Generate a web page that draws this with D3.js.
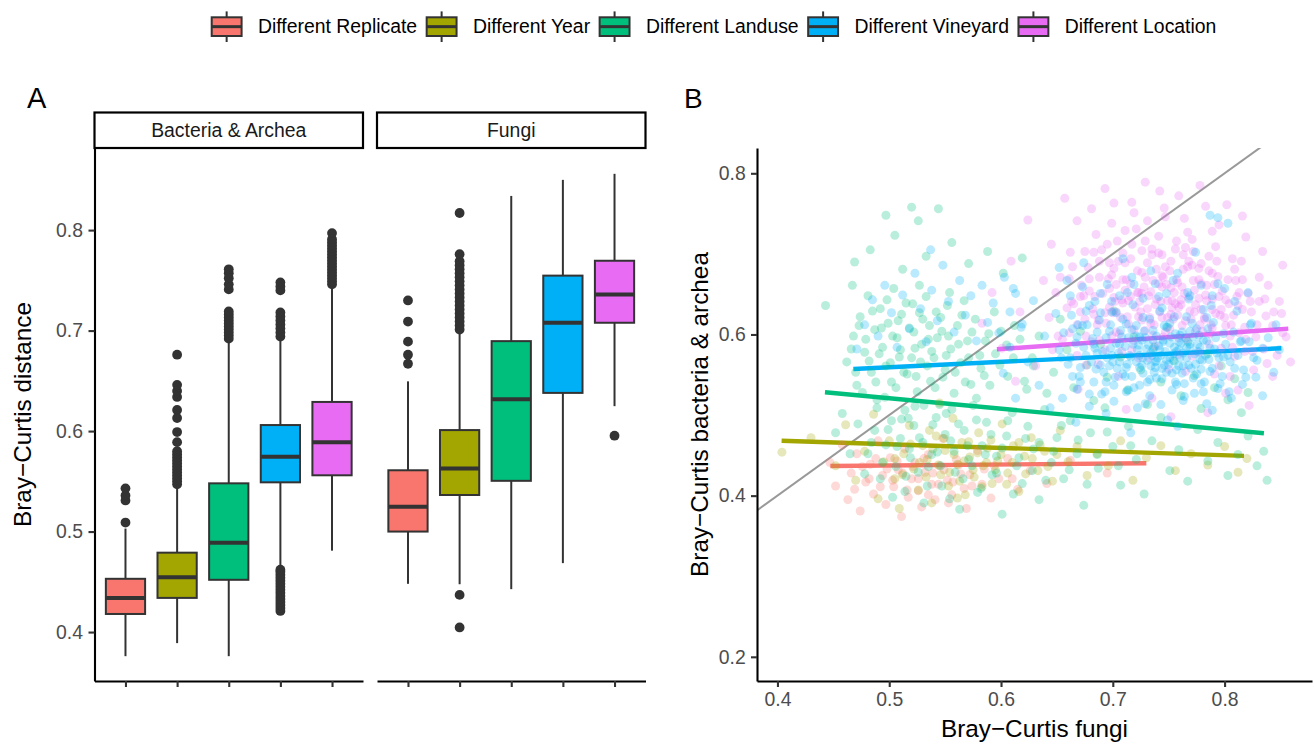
<!DOCTYPE html>
<html>
<head>
<meta charset="utf-8">
<script src="https://cdnjs.cloudflare.com/ajax/libs/d3/7.8.5/d3.min.js"></script>
<style>
body { margin: 0; background: white; }
svg { font-family: "Liberation Sans", Arial, sans-serif; }
</style>
</head>
<body>
<script>
// ---- data ----
const groups = ["Different Replicate", "Different Year", "Different Landuse", "Different Vineyard", "Different Location"];
const groupColors = ["#F8766D", "#A3A500", "#00BF7D", "#00B0F6", "#E76BF3"];
const facets = ["Bacteria & Archea", "Fungi"];

// box stats per group: [lower whisker, q1, median, q3, upper whisker]
const bacteriaStats = [
  [0.376, 0.418, 0.434, 0.453, 0.503],
  [0.389, 0.434, 0.4545, 0.479, 0.545],
  [0.376, 0.452, 0.489, 0.548, 0.690],
  [0.466, 0.549, 0.5745, 0.606, 0.690],
  [0.481, 0.556, 0.589, 0.629, 0.743]
];
const bacteriaOutliers = [
  [0.509, 0.531, 0.536, 0.543],
  [0.547, 0.550, 0.553, 0.556, 0.559, 0.562, 0.565, 0.568, 0.571, 0.574, 0.577, 0.580, 0.589, 0.599, 0.613, 0.621, 0.634, 0.640, 0.646, 0.676],
  [0.692, 0.695, 0.698, 0.701, 0.704, 0.707, 0.710, 0.713, 0.716, 0.719, 0.741, 0.746, 0.752, 0.757, 0.761],
  [0.421, 0.424, 0.427, 0.430, 0.433, 0.436, 0.439, 0.442, 0.445, 0.448, 0.451, 0.454, 0.457, 0.460, 0.462,
   0.694, 0.698, 0.702, 0.706, 0.710, 0.714, 0.718, 0.740, 0.744, 0.748],
  [0.746, 0.749, 0.752, 0.755, 0.758, 0.761, 0.764, 0.767, 0.770, 0.773, 0.776, 0.779, 0.782, 0.785, 0.788, 0.791, 0.797]
];
const fungiStats = [
  [0.448, 0.500, 0.5246, 0.561, 0.6495],
  [0.4476, 0.5364, 0.5627, 0.601, 0.699],
  [0.4427, 0.5505, 0.6316, 0.6895, 0.834],
  [0.4686, 0.638, 0.7078, 0.7547, 0.850],
  [0.6248, 0.7078, 0.736, 0.7695, 0.856]
];
const fungiOutliers = [
  [0.667, 0.676, 0.689, 0.709, 0.730],
  [0.4046, 0.437, 0.701, 0.705, 0.709, 0.713, 0.717, 0.721, 0.725, 0.729, 0.733, 0.737, 0.741, 0.745, 0.749, 0.753, 0.757, 0.761, 0.765, 0.769, 0.776, 0.817],
  [],
  [],
  [0.5954]
];
const yTicksA = [0.4, 0.5, 0.6, 0.7, 0.8];

// panel B: fungi distance (x) vs bacteria distance (y)
const replicatePts = [[.447,.441],[.452,.412],[.458,.463],[.463,.395],[.466,.428],[.471,.452],[.474,.381],[.479,.417],[.483,.439],[.486,.402],[.49,.468],[.494,.425],[.497,.389],[.501,.447],[.504,.411],[.508,.432],[.511,.374],[.514,.458],[.517,.398],[.52,.421],[.523,.441],[.526,.406],[.529,.386],[.532,.429],[.535,.451],[.538,.414],[.541,.395],[.545,.437],[.548,.471],[.552,.419],[.556,.401],[.56,.445],[.564,.427],[.569,.384],[.574,.412],[.579,.456],[.585,.433],[.591,.397],[.598,.421],[.606,.446],[.615,.408],[.626,.431],[.641,.415],[.662,.444],[.695,.428],
  [.469,.408],[.476,.436],[.482,.421],[.488,.446],[.492,.411],[.498,.433],[.503,.419],[.507,.443],[.512,.428],[.516,.407],[.521,.436],[.526,.421],[.531,.446],[.535,.401],[.539,.428],[.544,.414],[.549,.432],[.553,.391],[.557,.417],[.562,.438],[.567,.409],[.572,.426],[.583,.414],[.594,.437],[.61,.421]];
const yearPts = [[.404,.454],[.43,.472],[.452,.437],[.461,.488],[.47,.419],[.478,.455],[.486,.501],[.49,.396],[.495,.442],[.5,.468],[.505,.421],[.509,.384],[.513,.452],[.518,.487],[.522,.433],[.526,.407],[.53,.462],[.534,.445],[.538,.391],[.542,.474],[.546,.426],[.55,.456],[.553,.412],[.557,.496],[.561,.439],[.565,.466],[.568,.401],[.572,.448],[.576,.423],[.58,.478],[.584,.437],[.588,.459],[.592,.415],[.597,.443],[.601,.489],[.606,.428],[.611,.462],[.616,.405],[.621,.449],[.627,.472],[.633,.431],[.639,.455],[.646,.418],[.653,.481],[.66,.442],[.668,.461],[.677,.425],[.686,.452],[.696,.437],[.707,.468],[.718,.419],[.73,.447],[.743,.462],[.756,.431],[.77,.452],[.785,.438],[.8,.461],[.812,.429],[.82,.446],[.545,.515],
  [.505,.446],[.512,.426],[.519,.464],[.527,.441],[.533,.423],[.539,.458],[.544,.438],[.549,.471],[.554,.429],[.558,.451],[.563,.418],[.567,.443],[.571,.467],[.575,.432],[.579,.453],[.583,.411],[.587,.441],[.591,.469],[.595,.432],[.6,.451],[.605,.414],[.61,.441],[.616,.466],[.622,.427],[.628,.446],[.635,.463],[.642,.436],[.65,.451],[.536,.481],[.561,.397]];
const landusePts = [[.443,.636],[.467,.661],[.469,.69],[.483,.705],[.497,.748],[.505,.723],[.52,.758],[.526,.741],[.544,.756],[.512,.681],[.533,.697],[.556,.714],[.571,.688],[.588,.703],[.602,.676],[.619,.695],
  [.462,.566],[.468,.598],[.471,.537],[.474,.622],[.478,.578],[.481,.648],[.484,.553],[.487,.606],[.489,.519],[.492,.632],[.494,.584],[.497,.561],[.499,.614],[.502,.541],[.504,.657],[.507,.596],[.509,.572],[.511,.625],[.514,.506],[.516,.551],[.518,.608],[.521,.638],[.523,.583],[.525,.529],[.528,.566],[.53,.619],[.533,.647],[.535,.594],[.537,.542],[.54,.571],[.542,.628],[.545,.513],[.547,.604],[.55,.556],[.552,.636],[.555,.582],[.558,.527],[.561,.611],[.564,.565],[.567,.642],[.57,.592],[.573,.538],[.577,.619],[.581,.574],[.585,.549],[.589,.601],[.594,.628],[.599,.562],[.605,.587],[.612,.611],
  [.452,.478],[.458,.502],[.465,.452],[.472,.489],[.478,.427],[.484,.466],[.489,.509],[.494,.441],[.499,.482],[.503,.398],[.507,.461],[.511,.495],[.515,.424],[.519,.447],[.523,.511],[.527,.472],[.531,.391],[.535,.436],[.539,.488],[.543,.454],[.547,.412],[.551,.502],[.555,.468],[.559,.429],[.563,.383],[.567,.481],[.571,.445],[.575,.512],[.579,.404],[.583,.462],[.587,.491],[.592,.426],[.596,.449],[.601,.377],[.605,.474],[.61,.503],[.614,.437],[.619,.415],[.624,.486],[.629,.458],[.634,.395],[.639,.507],[.645,.441],[.65,.472],[.656,.421],[.662,.493],[.668,.452],[.674,.388],[.68,.478],[.687,.434],[.693,.509],[.7,.461],[.707,.413],[.714,.486],[.721,.445],[.728,.402],[.735,.468],[.743,.497],[.751,.431],[.759,.457],[.767,.418],[.776,.482],[.785,.443],[.794,.466],[.803,.425],[.812,.451],[.821,.474],[.829,.437],[.835,.455],[.838,.419],
  [.621,.542],[.628,.571],[.634,.598],[.641,.527],[.647,.553],[.653,.619],[.659,.581],[.665,.534],[.671,.604],[.677,.562],[.683,.518],[.689,.588],[.695,.547],[.701,.629],[.707,.572],[.713,.531],[.719,.597],[.725,.556],[.731,.513],[.737,.584],[.743,.541],[.749,.609],[.755,.567],[.761,.524],[.767,.591],[.773,.549],[.779,.508],[.785,.576],[.791,.534],[.797,.561],[.803,.519],[.809,.545],[.815,.503],[.821,.528],
  [.466,.582],[.47,.553],[.473,.611],[.476,.528],[.479,.594],[.482,.567],[.485,.629],[.488,.541],[.491,.576],[.493,.608],[.496,.522],[.498,.643],[.501,.565],[.503,.598],[.506,.534],[.508,.617],[.51,.581],[.513,.553],[.515,.639],[.517,.496],[.52,.571],[.522,.603],[.524,.548],[.527,.627],[.529,.588],[.531,.512],[.534,.561],[.536,.611],[.538,.579],[.541,.534],[.543,.596],[.546,.621],[.548,.547],[.551,.574],[.553,.598],[.556,.507],[.559,.553],[.562,.588],[.565,.624],[.568,.541],[.571,.571],[.574,.603],[.578,.521],[.582,.558],[.586,.592],[.59,.537],[.595,.576],[.6,.604],[.606,.548],[.611,.571],[.617,.594],[.623,.532],[.629,.561],[.554,.652],[.527,.661],
  [.481,.452],[.487,.481],[.492,.421],[.497,.463],[.502,.493],[.506,.436],[.51,.471],[.514,.405],[.518,.458],[.522,.487],[.526,.429],[.53,.466],[.534,.412],[.538,.451],[.542,.497],[.546,.437],[.55,.476],[.554,.396],[.558,.455],[.562,.489],[.566,.421],[.57,.462],[.574,.437],[.578,.494],[.582,.409],[.586,.451],[.591,.476],[.596,.428],[.601,.459],[.606,.493],[.611,.402],[.616,.447],[.622,.471],[.628,.431],[.634,.466],[.64,.419],[.647,.455],[.654,.487],[.661,.432],[.669,.469],[.677,.414],[.686,.451],[.695,.479],[.705,.437],[.716,.462]];
const vineyardPts = [[.471,.582],[.478,.612],[.485,.643],[.49,.598],[.496,.661],[.502,.627],[.507,.584],[.512,.649],[.518,.607],[.523,.676],[.528,.632],[.533,.591],[.538,.655],[.543,.617],[.548,.686],[.553,.641],[.558,.603],[.563,.667],[.568,.624],[.573,.648],[.578,.592],[.583,.661],[.588,.615],[.593,.639],[.598,.602],[.603,.671],[.608,.628],[.613,.651],[.618,.609],[.537,.705],
  [.602,.552],[.608,.584],[.613,.521],[.619,.613],[.624,.566],[.629,.642],[.634,.537],[.639,.598],[.644,.509],[.649,.626],[.654,.571],[.659,.667],[.664,.548],[.669,.612],[.674,.689],[.679,.526],[.684,.583],[.689,.651],[.694,.502],[.699,.628],[.704,.558],[.709,.694],[.714,.531],[.719,.662],[.724,.597],[.729,.514],[.734,.679],[.739,.546],[.744,.633],[.749,.494],[.754,.667],[.759,.581],[.764,.523],[.769,.648],[.774,.702],[.779,.539],[.784,.621],[.789,.506],[.794,.663],[.799,.572],[.804,.529],[.809,.641],[.814,.591],[.819,.547],[.824,.614],[.829,.568],[.834,.524],[.839,.596],[.844,.553],[.849,.581],[.787,.748],[.794,.745],[.803,.738],[.652,.683],[.667,.491],[.716,.478],[.758,.486],[.821,.652],[.611,.657],[.846,.612],
  [.652,.581],[.656,.602],[.66,.563],[.663,.624],[.667,.589],[.67,.548],[.673,.611],[.676,.574],[.679,.636],[.682,.595],[.685,.557],[.688,.618],[.691,.579],[.694,.541],[.697,.604],[.7,.566],[.703,.627],[.706,.588],[.709,.551],[.712,.613],[.715,.574],[.718,.637],[.721,.598],[.724,.559],[.727,.621],[.73,.582],[.733,.544],[.736,.605],[.739,.567],[.742,.629],[.745,.591],[.748,.553],[.751,.614],[.754,.576],[.757,.538],[.76,.599],[.763,.561],[.766,.622],[.769,.584],[.772,.546],[.775,.607],[.778,.569],[.781,.631],[.784,.592],[.787,.554],[.79,.615],[.793,.577],[.796,.539],[.799,.601],[.713,.563],[.722,.581],[.731,.568],[.741,.586],[.751,.571],[.761,.589],[.698,.583],[.708,.597],[.727,.552],[.736,.593],[.746,.562],[.756,.601],[.766,.571],[.776,.588],[.689,.562],[.702,.547],[.717,.606],[.734,.577],[.748,.609],[.762,.552],[.772,.597],[.783,.574],[.694,.596],[.711,.585],[.726,.593],[.743,.574],[.757,.556],[.769,.604],[.779,.557],[.686,.577],[.738,.559],
  [.662,.571],[.668,.597],[.671,.559],[.674,.584],[.677,.612],[.681,.566],[.683,.541],[.686,.603],[.689,.627],[.692,.553],[.695,.571],[.698,.612],[.701,.537],[.703,.589],[.706,.566],[.709,.619],[.711,.548],[.714,.596],[.716,.572],[.719,.534],[.721,.611],[.723,.587],[.726,.562],[.728,.604],[.731,.541],[.733,.619],[.735,.574],[.737,.553],[.739,.598],[.742,.581],[.744,.545],[.746,.611],[.748,.568],[.751,.589],[.753,.552],[.755,.622],[.757,.579],[.759,.561],[.762,.603],[.764,.539],[.766,.584],[.768,.562],[.771,.614],[.773,.576],[.775,.551],[.777,.599],[.78,.568],[.782,.541],[.785,.607],[.787,.583],[.789,.558],[.792,.596],[.795,.571],[.798,.548],[.801,.588],[.805,.566],[.808,.603],[.812,.574],[.817,.556],[.822,.591],
  [.705,.577],[.712,.559],[.718,.588],[.724,.574],[.729,.596],[.734,.561],[.74,.571],[.745,.593],[.75,.563],[.755,.584],[.76,.571],[.765,.596],[.77,.558],[.776,.579],[.781,.593],[.786,.569],[.717,.548],[.732,.587],[.747,.579],[.763,.577],[.778,.584],[.727,.571],[.752,.597],[.738,.566],[.769,.588],[.697,.561],[.683,.588],[.707,.605],[.744,.558],[.759,.591],[.721,.566],[.736,.582],[.754,.568],[.774,.563],[.791,.582],[.699,.574],
  [.655,.521],[.662,.648],[.668,.532],[.673,.659],[.679,.511],[.684,.641],[.69,.526],[.695,.662],[.701,.517],[.706,.648],[.712,.529],[.717,.671],[.722,.509],[.727,.645],[.733,.524],[.738,.663],[.743,.513],[.748,.651],[.753,.531],[.758,.676],[.763,.518],[.768,.644],[.773,.527],[.779,.661],[.784,.514],[.789,.648],[.794,.533],[.8,.657],[.806,.521],[.811,.629],[.816,.538],[.823,.612],[.828,.547],[.664,.607],[.676,.629],[.699,.641],[.713,.652],[.741,.647],[.767,.652],[.788,.636],[.671,.541],[.693,.529],[.724,.537],[.756,.541],[.781,.529],[.803,.574],[.809,.558],[.815,.592],[.826,.571],[.834,.583]];
const locationPts = [[.583,.614],[.592,.652],[.601,.583],[.609,.691],[.617,.628],[.624,.742],[.631,.561],[.638,.667],[.645,.712],[.651,.598],[.657,.769],[.663,.641],[.669,.532],[.675,.703],[.681,.756],[.687,.618],[.693,.781],[.699,.674],[.705,.548],[.711,.729],[.717,.764],[.723,.652],[.729,.789],[.735,.521],[.741,.701],[.747,.746],[.753,.633],[.759,.772],[.765,.554],[.771,.718],[.777,.682],[.783,.759],[.789,.608],[.795,.736],[.801,.527],[.807,.694],[.813,.652],[.819,.721],[.825,.579],[.831,.671],[.837,.623],[.843,.548],[.849,.641],[.855,.597],[.859,.566],[.852,.686],[.834,.703],[.822,.512],[.785,.503],[.752,.498],[.712,.507],[.676,.562],[.646,.581],[.613,.542],[.668,.741],[.701,.763],[.742,.778],[.778,.785],[.802,.761],[.816,.747],
  [.661,.602],[.665,.638],[.668,.574],[.672,.661],[.675,.619],[.678,.683],[.681,.591],[.684,.647],[.687,.563],[.69,.705],[.693,.627],[.696,.669],[.699,.598],[.702,.641],[.705,.691],[.708,.579],[.711,.655],[.714,.613],[.717,.712],[.72,.634],[.723,.571],[.726,.677],[.729,.605],[.732,.648],[.735,.699],[.738,.586],[.741,.663],[.744,.621],[.747,.684],[.75,.557],[.753,.642],[.756,.706],[.759,.596],[.762,.659],[.765,.617],[.768,.691],[.771,.573],[.774,.637],[.777,.668],[.78,.604],[.783,.649],[.786,.588],[.789,.676],[.792,.626],[.795,.561],[.798,.654],[.801,.611],[.804,.638],[.807,.584],[.81,.667],[.813,.602],[.816,.631],[.686,.612],[.697,.634],[.707,.621],[.716,.647],[.725,.628],[.734,.614],[.743,.641],[.752,.625],[.761,.637],[.77,.619],[.779,.631],[.788,.612],[.697,.657],[.712,.668],[.728,.659],[.744,.673],[.758,.664],[.773,.655],[.789,.644],[.703,.603],[.719,.592],[.736,.599],[.751,.607],[.766,.594],[.782,.619],[.674,.648],[.688,.671],[.701,.682],[.731,.689],[.763,.681],[.794,.672],[.722,.652],[.739,.644],[.755,.652],[.768,.646],[.709,.639],[.745,.597],[.777,.578],[.732,.571],[.693,.581],[.805,.598],[.717,.581],[.759,.575],[.683,.625],[.748,.662],[.797,.631],[.811,.647],[.726,.704],[.757,.716],[.741,.722],[.772,.703],[.786,.697],[.704,.716],[.683,.702],[.809,.681],[.661,.669],[.819,.594],
  [.643,.621],[.649,.652],[.655,.594],[.659,.633],[.664,.684],[.668,.612],[.671,.647],[.676,.598],[.679,.669],[.682,.632],[.685,.724],[.688,.593],[.691,.651],[.694,.614],[.697,.689],[.7,.627],[.703,.662],[.706,.601],[.708,.643],[.711,.689],[.713,.622],[.716,.663],[.719,.606],[.721,.731],[.724,.641],[.726,.618],[.729,.671],[.731,.632],[.734,.653],[.737,.612],[.739,.681],[.742,.628],[.744,.659],[.747,.603],[.749,.642],[.752,.691],[.754,.619],[.757,.668],[.759,.634],[.762,.611],[.764,.651],[.767,.727],[.769,.629],[.772,.667],[.774,.604],[.777,.645],[.779,.688],[.782,.621],[.784,.661],[.787,.601],[.789,.631],[.792,.709],[.795,.647],[.797,.583],[.8,.621],[.803,.668],[.806,.612],[.809,.573],[.812,.636],[.815,.691],[.818,.609],[.821,.651],[.824,.628],[.828,.597],[.831,.641],[.835,.582],[.839,.661],[.843,.611],[.847,.574],[.851,.626],
  [.714,.642],[.726,.651],[.738,.637],[.749,.621],[.761,.643],[.773,.628],[.784,.642],[.796,.624],[.722,.679],[.745,.671],[.767,.684],[.701,.646],[.733,.621],[.756,.638],[.778,.612],[.709,.668],[.752,.658],[.791,.662],[.735,.706],[.763,.699],
  [.653,.671],[.662,.702],[.671,.628],[.679,.654],[.688,.691],[.695,.712],[.703,.628],[.709,.701],[.716,.694],[.723,.622],[.729,.716],[.736,.667],[.744,.699],[.751,.679],[.758,.624],[.765,.708],[.771,.686],[.779,.663],[.786,.679],[.793,.691],[.801,.643],[.808,.624],[.816,.668],[.823,.641],[.829,.612],[.836,.644],[.844,.628],[.852,.602],[.818,.579],[.826,.556],[.838,.564],[.805,.548],[.791,.551],[.812,.531],[.731,.741],[.764,.744],[.699,.738],[.789,.728],[.746,.757],[.719,.751]];
const scatterSets = [replicatePts, yearPts, landusePts, vineyardPts, locationPts];
// linear fit ends per group: [x, y]
const fitStart = [[0.4473, 0.4368], [0.4037, 0.4682], [0.4425, 0.5283], [0.4679, 0.5572], [0.5963, 0.5816]];
const fitEnd = [[0.7300, 0.4402], [0.8174, 0.4493], [0.8352, 0.4774], [0.8508, 0.5829], [0.8570, 0.6072]];
const xTicksB = [0.4, 0.5, 0.6, 0.7, 0.8];
const yTicksB = [0.2, 0.4, 0.6, 0.8];

// ---- drawing ----
const W = 1314, H = 744;
const svg = d3.select("body").append("svg").attr("width", W).attr("height", H);
svg.append("rect").attr("width", W).attr("height", H).attr("fill", "white");

const tickFont = 19.4, titleFont = 24.3;

function styleAxis(g) {
  g.select(".domain").attr("stroke", "black").attr("stroke-width", 2.1);
  g.selectAll(".tick line").attr("stroke", "#333333").attr("stroke-width", 2.1);
  g.selectAll(".tick text").attr("fill", "#4D4D4D").style("font-size", tickFont + "px")
    .style("font-family", '"Liberation Sans", Arial, sans-serif');
}

// legend
let lx = 208;
groups.forEach((g, i) => {
  const k = svg.append("g").attr("transform", `translate(${lx},8)`);
  k.append("line").attr("x1", 18.65).attr("x2", 18.65).attr("y1", 3.4).attr("y2", 34)
    .attr("stroke", "#333333").attr("stroke-width", 2);
  k.append("rect").attr("x", 3.7).attr("y", 9.3).attr("width", 29.9).attr("height", 18.7)
    .attr("fill", groupColors[i]).attr("stroke", "#333333").attr("stroke-width", 2);
  k.append("line").attr("x1", 3.7).attr("x2", 33.6).attr("y1", 18.65).attr("y2", 18.65)
    .attr("stroke", "#333333").attr("stroke-width", 3);
  const t = svg.append("text").attr("x", lx + 50).attr("y", 32.7)
    .style("font-size", tickFont + "px").attr("fill", "black").text(g);
  lx += 50 + t.node().getComputedTextLength() + 5.8;
});

// panel labels
svg.append("text").attr("x", 27).attr("y", 108.3).style("font-size", "29px").text("A");
svg.append("text").attr("x", 684).attr("y", 108.3).style("font-size", "28px").text("B");

// ---- panel A ----
const aTop = 148, aBottom = 681, stripTop = 112.5;
const panelLeft = [94.5, 377], panelW = 268.5;
const yA = d3.scaleLinear().domain([0.3513, 0.8817]).range([aBottom, aTop]);

facets.forEach((f, fi) => {
  const left = panelLeft[fi];
  const stats = fi === 0 ? bacteriaStats : fungiStats;
  const outs = fi === 0 ? bacteriaOutliers : fungiOutliers;
  const xA = d3.scalePoint().domain(groups).range([left, left + panelW]).padding(0.6);
  const bw = xA.step() * 0.76;
  const g = svg.append("g");

  // strip
  g.append("rect").attr("x", left).attr("y", stripTop).attr("width", panelW).attr("height", aTop - stripTop)
    .attr("fill", "white").attr("stroke", "black").attr("stroke-width", 2.2);
  g.append("text").attr("x", left + panelW / 2).attr("y", (stripTop + aTop) / 2).attr("dy", "0.35em")
    .attr("text-anchor", "middle").style("font-size", tickFont + "px").attr("fill", "#1A1A1A").text(f);

  groups.forEach((grp, i) => {
    const [lo, q1, med, q3, hi] = stats[i];
    const cx = xA(grp);
    g.append("line").attr("x1", cx).attr("x2", cx).attr("y1", yA(lo)).attr("y2", yA(q1))
      .attr("stroke", "#333333").attr("stroke-width", 2);
    g.append("line").attr("x1", cx).attr("x2", cx).attr("y1", yA(q3)).attr("y2", yA(hi))
      .attr("stroke", "#333333").attr("stroke-width", 2);
    g.append("rect").attr("x", cx - bw / 2).attr("y", yA(q3)).attr("width", bw).attr("height", yA(q1) - yA(q3))
      .attr("fill", groupColors[i]).attr("stroke", "#333333").attr("stroke-width", 2);
    g.append("line").attr("x1", cx - bw / 2).attr("x2", cx + bw / 2).attr("y1", yA(med)).attr("y2", yA(med))
      .attr("stroke", "#333333").attr("stroke-width", 4);
    g.selectAll(null).data(outs[i]).join("circle")
      .attr("cx", cx).attr("cy", d => yA(d)).attr("r", 4.9).attr("fill", "#333333");
  });

  const xAxis = g.append("g").attr("transform", `translate(0,${aBottom})`)
    .call(d3.axisBottom(xA).tickSize(6).tickSizeOuter(0).tickFormat(""));
  styleAxis(xAxis);
  if (fi === 0) {
    const yAxis = g.append("g").attr("transform", `translate(${left},0)`)
      .call(d3.axisLeft(yA).tickValues(yTicksA).tickSize(6).tickPadding(5.5).tickSizeOuter(0).tickFormat(d3.format(".1f")));
    styleAxis(yAxis);
  }
});

svg.append("text").attr("transform", `translate(30.5,${(aTop + aBottom) / 2}) rotate(-90)`)
  .attr("text-anchor", "middle").style("font-size", titleFont + "px").text("Bray\u2212Curtis distance");

// ---- panel B ----
const bLeft = 757, bRight = 1312;
const xB = d3.scaleLinear().domain([0.3817, 0.8782]).range([bLeft, bRight]);
const yB = d3.scaleLinear().domain([0.1700, 0.8314]).range([aBottom, aTop]);

svg.append("clipPath").attr("id", "clipB").append("rect")
  .attr("x", bLeft).attr("y", aTop).attr("width", bRight - bLeft).attr("height", aBottom - aTop);
const pB = svg.append("g").attr("clip-path", "url(#clipB)");

// 1:1 reference line
const diag = xB.domain();
pB.append("line").attr("x1", xB(diag[0])).attr("y1", yB(diag[0])).attr("x2", xB(diag[1])).attr("y2", yB(diag[1]))
  .attr("stroke", "#999999").attr("stroke-width", 2);

// fitted lines
groups.forEach((grp, i) => {
  pB.append("line")
    .attr("x1", xB(fitStart[i][0])).attr("y1", yB(fitStart[i][1]))
    .attr("x2", xB(fitEnd[i][0])).attr("y2", yB(fitEnd[i][1]))
    .attr("stroke", groupColors[i]).attr("stroke-width", 4.4).attr("stroke-linecap", "butt");
});

// points
const drawOrder = [0, 1, 2, 4, 3];
drawOrder.forEach(i => {
  pB.append("g").selectAll("circle").data(scatterSets[i]).join("circle")
    .attr("cx", d => xB(d[0])).attr("cy", d => yB(d[1])).attr("r", 4.5)
    .attr("fill", groupColors[i]).attr("fill-opacity", 0.27);
});

const xAxisB = svg.append("g").attr("transform", `translate(0,${aBottom})`)
  .call(d3.axisBottom(xB).tickValues(xTicksB).tickSize(6).tickPadding(5.5).tickSizeOuter(0).tickFormat(d3.format(".1f")));
styleAxis(xAxisB);
const yAxisB = svg.append("g").attr("transform", `translate(${bLeft},0)`)
  .call(d3.axisLeft(yB).tickValues(yTicksB).tickSize(6).tickPadding(5.3).tickSizeOuter(0).tickFormat(d3.format(".1f")));
styleAxis(yAxisB);

svg.append("text").attr("x", (bLeft + bRight) / 2).attr("y", 737.3).attr("text-anchor", "middle")
  .style("font-size", titleFont + "px").text("Bray\u2212Curtis fungi");
svg.append("text").attr("transform", `translate(707.6,${(aTop + aBottom) / 2}) rotate(-90)`)
  .attr("text-anchor", "middle").style("font-size", titleFont + "px").text("Bray\u2212Curtis bacteria & archea");
</script>
</body>
</html>
